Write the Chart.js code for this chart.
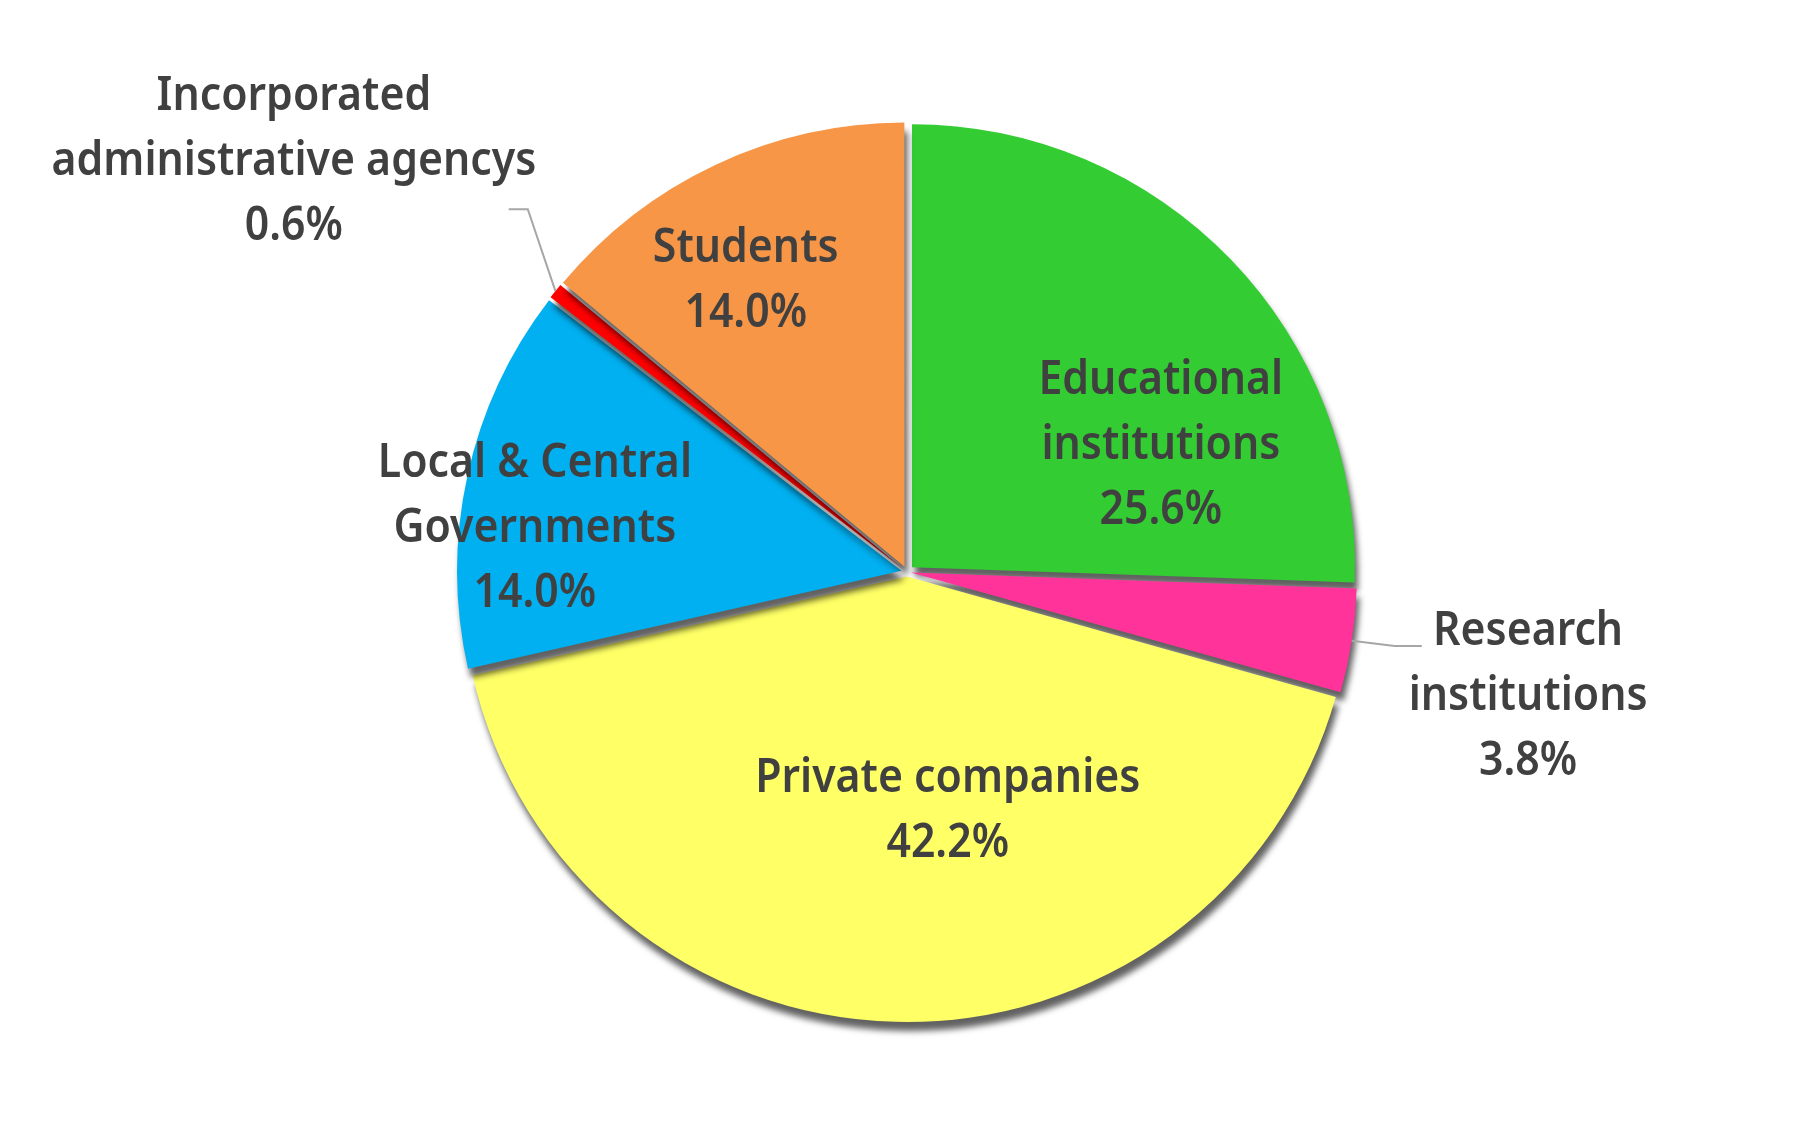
<!DOCTYPE html>
<html>
<head>
<meta charset="utf-8">
<script src="https://cdn.jsdelivr.net/npm/chart.js@4/dist/chart.umd.min.js"></script>
<style>
html,body{margin:0;padding:0;background:#ffffff;}
#wrap{width:1814px;height:1144px;position:relative;}
</style>
</head>
<body>
<div id="wrap"><canvas id="c"></canvas></div>
<script>
// ---- data ----
const categories = ['Educational institutions', 'Research institutions', 'Private companies',
  'Local & Central Governments', 'Incorporated administrative agencys', 'Students'];
const shares = [25.6, 3.8, 42.2, 14.0, 0.6, 14.0];
const labelLines = [
  ['Educational', 'institutions'],
  ['Research', 'institutions'],
  ['Private companies'],
  ['Local & Central', 'Governments'],
  ['Incorporated', 'administrative agencys'],
  ['Students']
];
const sliceColors = ['#33CC33', '#FF3399', '#FFFF66', '#00B0F0', '#FF0000', '#F79646'];

// ---- style: uniform explode distance (px) and label placement ----
const EXPLODE = 7;
const labelPlacement = [
  {dx: 0.573, dy: -0.402},
  {dx: 1.402, dy: 0.165, leader: {elbow: [1.101, 0.167], end: [1.162, 0.167]}},
  {dx: 0.092, dy: 0.497},
  {dx: -0.840, dy: -0.214},
  {dx: -1.384, dy: -1.043, leader: {elbow: [-0.856, -0.819], end: [-0.899, -0.819]}},
  {dx: -0.364, dy: -0.700}
];

// Chart.js arcs move by offset/4 * (1 + fix); choose offset so every slice moves EXPLODE px
function explodeOffset(ctx) {
  const vals = ctx.chart.data.datasets[0].data;
  const total = vals.reduce((a, b) => a + b, 0);
  const circ = 2 * Math.PI * vals[ctx.dataIndex] / total;
  const fix = 1 - Math.sin(Math.min(Math.PI, circ));
  return 4 * EXPLODE / (1 + fix);
}

const shadowPlugin = {
  id: 'sliceShadow',
  beforeDatasetDraw(chart) {
    const ctx = chart.ctx;
    ctx.save();
    ctx.shadowColor = 'rgba(0,0,0,0.62)';
    ctx.shadowBlur = 6;
    ctx.shadowOffsetX = 3;
    ctx.shadowOffsetY = 9;
  },
  afterDatasetDraw(chart) {
    chart.ctx.restore();
  }
};

const labelPlugin = {
  id: 'sliceLabels',
  afterDatasetsDraw(chart) {
    const ctx = chart.ctx;
    const meta = chart.getDatasetMeta(0);
    const lineH = 65;
    const squeeze = 0.93;
    ctx.save();
    ctx.font = '600 46px "Noto Sans"';
    ctx.fillStyle = '#404040';
    ctx.textAlign = 'center';
    ctx.textBaseline = 'alphabetic';
    meta.data.forEach((arc, i) => {
      const p = arc.getProps(['x', 'y', 'startAngle', 'endAngle', 'outerRadius'], true);
      const R = p.outerRadius;
      const pl = labelPlacement[i];
      const ax = p.x + pl.dx * R;
      const ay = p.y + pl.dy * R;
      const lines = labelLines[i].concat([shares[i].toFixed(1) + '%']);
      lines.forEach((t, k) => {
        ctx.save();
        ctx.translate(ax, ay + k * lineH);
        ctx.scale(squeeze, 1);
        ctx.fillText(t, 0, 0);
        ctx.restore();
      });
      if (pl.leader) {
        const mid = (p.startAngle + p.endAngle) / 2;
        const ex = p.x + Math.cos(mid) * (R + EXPLODE);
        const ey = p.y + Math.sin(mid) * (R + EXPLODE);
        ctx.save();
        ctx.strokeStyle = '#A6A6A6';
        ctx.lineWidth = 2;
        ctx.beginPath();
        ctx.moveTo(ex, ey);
        ctx.lineTo(p.x + pl.leader.elbow[0] * R, p.y + pl.leader.elbow[1] * R);
        ctx.lineTo(p.x + pl.leader.end[0] * R, p.y + pl.leader.end[1] * R);
        ctx.stroke();
        ctx.restore();
      }
    });
    ctx.restore();
  }
};

new Chart(document.getElementById('c'), {
  type: 'pie',
  data: {
    labels: categories,
    datasets: [{
      data: shares,
      backgroundColor: sliceColors,
      borderWidth: 0,
      offset: explodeOffset
    }]
  },
  options: {
    responsive: true,
    maintainAspectRatio: false,
    animation: false,
    radius: 443,
    layout: {padding: 0},
    plugins: {
      legend: {display: false},
      tooltip: {enabled: false}
    }
  },
  plugins: [shadowPlugin, labelPlugin]
});
</script>
</body>
</html>
